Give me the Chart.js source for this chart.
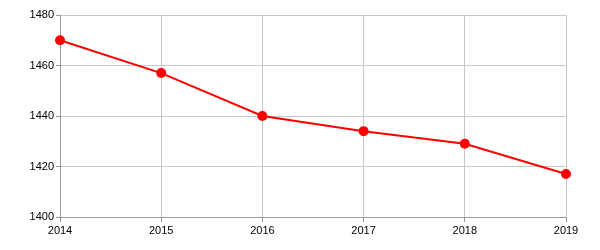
<!DOCTYPE html>
<html>
<head>
<meta charset="utf-8">
<script src="https://cdn.jsdelivr.net/npm/chart.js@4"></script>
<style>
  html, body { margin: 0; padding: 0; background: #fff; }
  #wrap { width: 600px; height: 250px; }
</style>
</head>
<body>
<div id="wrap"><canvas id="myChart" width="600" height="250"></canvas></div>
<script>
const years = ["2014", "2015", "2016", "2017", "2018", "2019"];
const values = [1470, 1457, 1440, 1434, 1429, 1417];
const yMin = 1400;
const yMax = 1480;
const yStep = 20;

const tickFont = { family: "Arial, 'Liberation Sans', sans-serif", size: 11 };

const config = {
  type: "line",
  data: {
    labels: years,
    datasets: [
      {
        data: values,
        borderColor: "#ff0000",
        backgroundColor: "#ff0000",
        borderWidth: 2,
        pointRadius: 5,
        pointHoverRadius: 5,
        pointBorderWidth: 0,
        tension: 0,
        fill: false,
      },
    ],
  },
  options: {
    responsive: false,
    animation: false,
    layout: { padding: { top: 15, right: 34, left: 0, bottom: 0 } },
    plugins: { legend: { display: false }, tooltip: { enabled: false } },
    scales: {
      x: {
        offset: false,
        grid: { color: "#c8c8c8", tickLength: 5, tickColor: "#999" },
        border: { color: "#999" },
        ticks: { color: "#000", font: tickFont, padding: 2, maxRotation: 0 },
        afterFit: (scale) => { scale.height = 33; },
      },
      y: {
        min: yMin,
        max: yMax,
        grid: { color: "#c8c8c8", tickLength: 4, tickColor: "#999" },
        border: { color: "#999" },
        ticks: {
          stepSize: yStep,
          color: "#000",
          font: tickFont,
          padding: 2,
          callback: (v) => String(v),
        },
        afterFit: (scale) => { scale.width = 60; },
      },
    },
  },
};

new Chart(document.getElementById("myChart"), config);
</script>
</body>
</html>
